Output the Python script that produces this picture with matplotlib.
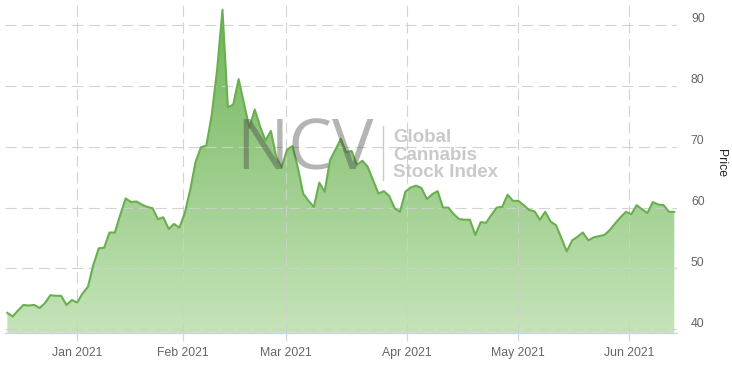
import matplotlib
matplotlib.use("Agg")
import matplotlib.pyplot as plt
import numpy as np
from matplotlib.colors import LinearSegmentedColormap
from matplotlib.transforms import ScaledTranslation
from matplotlib.lines import Line2D

plt.rcParams["font.family"] = ["Liberation Sans", "DejaVu Sans"]

# daily index values, mid Dec 2020 to mid Jun 2021
price = [
    42.7, 42.1, 43.1, 44.0, 43.9, 44.0, 43.5, 44.3, 45.6, 45.5,
    45.5, 44.0, 44.8, 44.4, 45.9, 47.0, 50.6, 53.3, 53.4, 55.9,
    55.9, 58.8, 61.5, 60.9, 61.0, 60.5, 60.1, 59.9, 58.1, 58.4,
    56.5, 57.3, 56.7, 59.1, 62.9, 67.5, 69.9, 70.2, 75.2, 82.6,
    92.5, 76.5, 76.9, 81.1, 77.1, 73.1, 76.1, 73.3, 71.0, 72.6,
    68.3, 66.6, 69.5, 70.1, 66.6, 62.3, 61.1, 60.1, 64.1, 62.6,
    67.8, 69.5, 71.3, 69.1, 69.3, 67.0, 67.7, 66.7, 64.5, 62.3,
    62.7, 61.9, 59.9, 59.3, 62.6, 63.3, 63.6, 63.2, 61.4, 62.2,
    62.7, 60.0, 60.0, 58.9, 58.1, 58.0, 58.0, 55.5, 57.6, 57.5,
    58.8, 60.0, 60.1, 62.1, 61.1, 61.1, 60.4, 59.6, 59.4, 58.0,
    59.3, 57.7, 57.1, 55.0, 52.8, 54.6, 55.2, 55.9, 54.6, 55.1,
    55.3, 55.5, 56.3, 57.4, 58.4, 59.3, 58.9, 60.4, 59.7, 59.1,
    60.9, 60.5, 60.4, 59.3, 59.3,
]
month_labels = ["Jan 2021", "Feb 2021", "Mar 2021", "Apr 2021", "May 2021", "Jun 2021"]
month_pos = [13, 32.7, 51.8, 74.3, 95, 115.6]
price_ticks = [40, 50, 60, 70, 80, 90]

fig = plt.figure(figsize=(7.32, 3.66), dpi=100)
ax = fig.add_axes([5 / 732, 1 - 333.3 / 366, 672 / 732, 333.3 / 366])

x = np.arange(len(price))
ymin, ymax = 39.34, 94.1
ax.set_xlim(-0.43, 124.5)
ax.set_ylim(ymin, ymax)

# gradient area fill, clipped to the area under the line
poly = ax.fill_between(x, price, ymin, color="none", lw=0)
cmap = LinearSegmentedColormap.from_list("g", ["#c6e4ba", "#6db356"])
grad = np.linspace(1, 0, 256).reshape(-1, 1)
img = ax.imshow(grad, cmap=cmap, aspect="auto", zorder=0,
                extent=[-0.43, 124.5, ymin, ymax], vmin=0, vmax=1)
img.set_clip_path(poly.get_paths()[0], transform=ax.transData)

ax.plot(x, price, color="#6aaf4f", lw=1.5, zorder=3, solid_joinstyle="round")

# grid
ax.set_xticks(month_pos)
ax.set_xticklabels(month_labels)
ax.set_yticks(price_ticks)
ax.grid(True, color="#cfcfcf", lw=0.8, linestyle=(0, (10, 5)), alpha=0.9)
ax.set_axisbelow(False)

for s in ["top", "left", "right"]:
    ax.spines[s].set_visible(False)
ax.spines["bottom"].set_color("#ccd6eb")
ax.spines["bottom"].set_linewidth(1)

ax.tick_params(axis="x", length=6, color="#ccd6eb", pad=4,
               labelsize=8.8, labelcolor="#666666")
ax.yaxis.tick_right()
ax.tick_params(axis="y", length=0, pad=10, labelsize=8.8, labelcolor="#666666")
up = ScaledTranslation(0, 7 / 100, fig.dpi_scale_trans)
for lab in ax.get_yticklabels():
    lab.set_transform(lab.get_transform() + up)

fig.text(721 / 732, 1 - 163 / 366, "Price", rotation=270, ha="center", va="center",
         fontsize=8.8, color="#222222")

# watermark
fig.text(236 / 732, 1 - 152 / 366, "NCV", fontsize=50, family="Open Sans",
         color="#444444", alpha=0.4, ha="left", va="center", zorder=4)
fig.add_artist(Line2D([383 / 732, 383 / 732], [1 - 126 / 366, 1 - 180 / 366],
                      color="#cccccc", lw=1))
for i, t in enumerate(["Global", "Cannabis", "Stock Index"]):
    fig.text(393 / 732, 1 - (142 + 17.5 * i) / 366, t, fontsize=13.5,
             family="Liberation Sans", weight="bold", color="#c4c4c4",
             ha="left", va="baseline", alpha=0.9)

fig.savefig("out.png", dpi=100)
